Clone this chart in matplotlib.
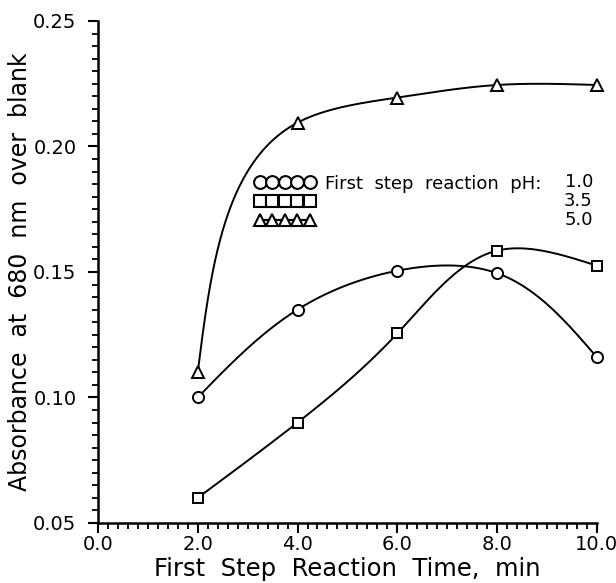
import numpy as np
import matplotlib
matplotlib.use('Agg')
import matplotlib.pyplot as plt
from matplotlib.ticker import MultipleLocator, FormatStrFormatter

# data
reaction_time = [2.0, 4.0, 6.0, 8.0, 10.0]
absorbance_ph_1_0 = [0.100, 0.135, 0.1505, 0.1495, 0.116]
absorbance_ph_3_5 = [0.060, 0.090, 0.1255, 0.1585, 0.1525]
absorbance_ph_5_0 = [0.110, 0.2095, 0.2195, 0.2245, 0.2245]
ph_labels = ['1.0', '3.5', '5.0']

X_RANGE = (0.0, 10.0)
Y_RANGE = (0.05, 0.25)


def natural_spline(t, v, t_new):
    """natural cubic spline of v over knots t, evaluated at t_new"""
    t = np.asarray(t, float)
    v = np.asarray(v, float)
    n = len(t)
    h = np.diff(t)
    a = np.zeros((n, n))
    b = np.zeros(n)
    a[0, 0] = a[-1, -1] = 1.0
    for i in range(1, n - 1):
        a[i, i - 1] = h[i - 1]
        a[i, i] = 2 * (h[i - 1] + h[i])
        a[i, i + 1] = h[i]
        b[i] = 6 * ((v[i + 1] - v[i]) / h[i] - (v[i] - v[i - 1]) / h[i - 1])
    m = np.linalg.solve(a, b)
    idx = np.clip(np.searchsorted(t, t_new) - 1, 0, n - 2)
    t0, t1 = t[idx], t[idx + 1]
    hh = t1 - t0
    u0, u1 = t1 - t_new, t_new - t0
    return (m[idx] * u0 ** 3 / (6 * hh) + m[idx + 1] * u1 ** 3 / (6 * hh)
            + (v[idx] / hh - m[idx] * hh / 6) * u0
            + (v[idx + 1] / hh - m[idx + 1] * hh / 6) * u1)


def smooth_curve(xs, ys, x_scale, y_scale):
    """parametric spline, chord length measured in axis-normalised units"""
    xs = np.asarray(xs, float)
    ys = np.asarray(ys, float)
    d = np.hypot(np.diff(xs) / x_scale, np.diff(ys) / y_scale)
    t = np.concatenate([[0.0], np.cumsum(d)])
    t_new = np.linspace(0, t[-1], 400)
    return natural_spline(t, xs, t_new), natural_spline(t, ys, t_new)


fig = plt.figure(figsize=(6.16, 5.83), dpi=100)
ax = fig.add_axes([0.159, 0.103, 0.810, 0.861])

series = [
    (absorbance_ph_1_0, 'o', 8.0),
    (absorbance_ph_3_5, 's', 6.8),
    (absorbance_ph_5_0, '^', 8.0),
]
# aspect of the axes in pixels, so the spline bends the same way as on paper
x_scale = (X_RANGE[1] - X_RANGE[0]) / 499.0
y_scale = (Y_RANGE[1] - Y_RANGE[0]) / 502.0
handles = []
for values, marker, size in series:
    cx, cy = smooth_curve(reaction_time, values, x_scale, y_scale)
    ax.plot(cx, cy, color='black', lw=1.4, zorder=2)
    ax.plot(reaction_time, values, linestyle='none', marker=marker, ms=size,
            mfc='white', mec='black', mew=1.4, zorder=3, clip_on=False)
    h, = ax.plot([], [], color='black', lw=1.6, marker=marker, ms=size + 1.2,
                 mfc='white', mec='black', mew=1.5)
    handles.append(h)

leg = ax.legend(handles, ['First  step  reaction  pH:', ' ', ' '], numpoints=5,
                handlelength=3.4, handletextpad=0.5, labelspacing=0.05,
                frameon=False, loc='upper left', bbox_to_anchor=(0.313, 0.694),
                fontsize=13, borderaxespad=0, borderpad=0)
for label, y in zip(ph_labels, [0.679, 0.641, 0.604]):
    ax.text(0.992, y, label, transform=ax.transAxes, ha='right', va='center',
            fontsize=13)

ax.set_xlim(*X_RANGE)
ax.set_ylim(*Y_RANGE)
ax.xaxis.set_major_locator(MultipleLocator(2.0))
ax.xaxis.set_minor_locator(MultipleLocator(0.2))
ax.yaxis.set_major_locator(MultipleLocator(0.05))
ax.yaxis.set_minor_locator(MultipleLocator(0.005))
ax.xaxis.set_major_formatter(FormatStrFormatter('%.1f'))
ax.yaxis.set_major_formatter(FormatStrFormatter('%.2f'))
ax.tick_params(which='major', direction='out', length=7.5, width=1.5, labelsize=14)
ax.tick_params(axis='x', which='major', pad=1.5)
ax.tick_params(axis='y', which='major', pad=8)
ax.tick_params(which='minor', direction='out', length=4.5, width=1.3)
for side in ['top', 'right']:
    ax.spines[side].set_visible(False)
for side in ['left', 'bottom']:
    ax.spines[side].set_linewidth(1.8)

ax.set_xlabel('First  Step  Reaction  Time,  min', fontsize=17.5, labelpad=2)
ax.set_ylabel('Absorbance  at  680  nm  over  blank', fontsize=17, labelpad=1)

fig.savefig('out.png', dpi=100)
